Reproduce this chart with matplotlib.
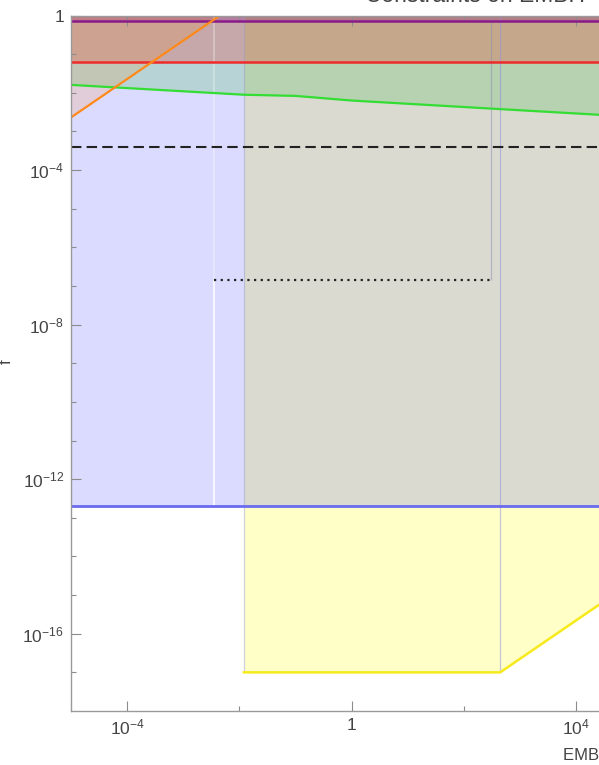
import matplotlib.pyplot as plt
from matplotlib.ticker import FixedLocator, NullFormatter

plt.rcParams['font.family'] = ['Liberation Sans', 'DejaVu Sans']
plt.rcParams['mathtext.fontset'] = 'custom'
plt.rcParams['mathtext.rm'] = 'Liberation Sans'
plt.rcParams['mathtext.it'] = 'Liberation Sans:italic'

# axis range (right side of the original is cropped away)
x_range = [1e-5, 1e5]
y_range = [1e-18, 1.0]

# horizontal constraint levels
purple_lim = 0.72
red_lim = 0.061
dashed_lim = 4.0e-4
dotted_lim = 1.4e-7
blue_lim = 2.0e-13

# dotted bound covers this mass window
dotted_x = [3.5e-3, 300]

# green bound (slowly falling)
green_x = [1e-5, 1.2e-2, 0.1, 1, 300, 2.5e4, 1e5]
green_y = [1.6e-2, 8.9e-3, 8.3e-3, 6.3e-3, 3.9e-3, 2.7e-3, 2.4e-3]

# orange bound (rising)
orange_x = [1e-5, 4.5e-3]
orange_y = [2.3e-3, 1.0]

# yellow bound (flat then rising)
yellow_x = [1.2e-2, 440, 1e5]
yellow_y = [1e-17, 1e-17, 2.2e-15]

fig = plt.figure(figsize=(5.99, 7.65), dpi=100)
ax = fig.add_axes([71 / 599, 54 / 765, 561.5 / 599, 695.5 / 765])
ax.set_xscale('log')
ax.set_yscale('log')

# filled regions, semi transparent so overlaps mix like the original
ax.fill_between(x_range, blue_lim, 1.0, color='blue', alpha=0.14, lw=0)
ax.fill_between(yellow_x, yellow_y, blue_lim, color='yellow', alpha=0.22, lw=0)
ax.fill_between(yellow_x, blue_lim, 1.0, color=(0.85, 0.85, 0.1), alpha=0.2, lw=0)
ax.fill_between(green_x, green_y, 1.0, color=(0.1, 0.7, 0.1), alpha=0.18, lw=0)
ax.fill_between(x_range, red_lim, 1.0, color='red', alpha=0.2, lw=0)
ax.fill_between(x_range, purple_lim, 1.0, color='purple', alpha=0.25, lw=0)
ax.fill_between(orange_x, orange_y, 1.0, color=(1, 0.5, 0), alpha=0.15, lw=0)

# faint region edges
ax.vlines(dotted_x[0], blue_lim, dotted_lim, color='white', lw=1.2, alpha=0.9)
ax.vlines(dotted_x[0], dotted_lim, 1.0, color='white', lw=1.2, alpha=0.35)
ax.vlines(yellow_x[0], yellow_y[0], 1.0, color=(0.6, 0.6, 0.85), lw=0.9, alpha=0.45)
ax.vlines(dotted_x[1], dotted_lim, 1.0, color=(0.55, 0.55, 0.7), lw=0.9, alpha=0.5)
ax.vlines(yellow_x[1], yellow_y[1], 1.0, color=(0.55, 0.55, 0.9), lw=0.9, alpha=0.5)

# boundary lines
ax.plot(yellow_x, yellow_y, color='#f7ea1c', lw=1.8)
ax.hlines(blue_lim, *x_range, color='#6a6af0', lw=2.0)
ax.hlines(dotted_lim, *dotted_x, color='#222222', lw=1.6, linestyles=(0, (1, 2)))
ax.hlines(dashed_lim, *x_range, color='#222222', lw=1.5, linestyles=(0, (5, 2.5)))
ax.plot(green_x, green_y, color='#33dd33', lw=1.6)
ax.hlines(red_lim, *x_range, color='#ee2a2a', lw=1.8)
ax.hlines(purple_lim, *x_range, color='#8a1a8a', lw=1.8)
ax.plot(orange_x, orange_y, color='#ff8a1a', lw=1.6)

ax.set_xlim(x_range)
ax.set_ylim(y_range)

# ticks, Mathematica style frame
ax.xaxis.set_major_locator(FixedLocator([1e-4, 1, 1e4]))
ax.xaxis.set_minor_locator(FixedLocator([1e-2, 1e2]))
ax.set_xticklabels([r'$10^{-4}$', '1', r'$10^{4}$'])
ax.xaxis.set_minor_formatter(NullFormatter())
ax.yaxis.set_major_locator(FixedLocator([1e-16, 1e-12, 1e-8, 1e-4, 1]))
ax.yaxis.set_minor_locator(FixedLocator([10.0 ** -k for k in range(1, 18)]))
ax.set_yticklabels([r'$10^{-16}$', r'$10^{-12}$', r'$10^{-8}$', r'$10^{-4}$', '1'])
ax.yaxis.set_minor_formatter(NullFormatter())
ax.tick_params(which='both', direction='in', top=True, right=True,
               color='#8c8c8c', labelcolor='#444444', labelsize=12.5, width=0.8)
ax.tick_params(which='major', length=7, pad=5)
ax.tick_params(which='minor', length=3.5)
for s in ax.spines.values():
    s.set_color('#9a9a9a')
    s.set_linewidth(1.0)

# texts (partly cut off by the crop, like the reference)
fig.text(365 / 599, 1 - 2.5 / 765, 'Constraints on EMBH', fontsize=16.5,
         color='#444444', va='baseline', ha='left')
fig.text(563 / 599, 10 / 765, 'EMBH mass', fontsize=12, color='#444444',
         va='center', ha='left')
fig.text(6 / 599, 1 - 362 / 765, 'f', fontsize=12, color='#444444',
         rotation=90, va='center', ha='center')

fig.savefig('out.png', dpi=100)
